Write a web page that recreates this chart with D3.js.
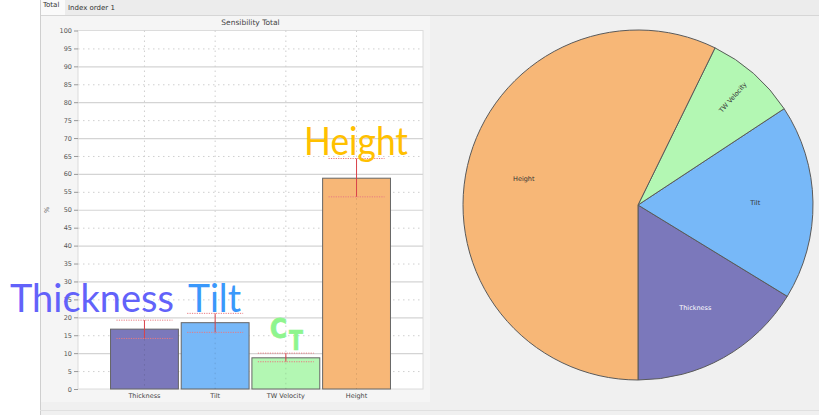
<!DOCTYPE html>
<html><head><meta charset="utf-8">
<script src="https://cdn.jsdelivr.net/npm/d3@7"></script>
<style>body{margin:0;background:#fff;}svg{display:block;font-family:"DejaVu Sans",sans-serif;}</style>
</head><body>
<svg id="c" width="819" height="415"></svg>
<script>
const categories = ["Thickness", "Tilt", "TW Velocity", "Height"];
const values = [16.7, 18.5, 8.7, 58.8];
const errLow = [14.1, 15.8, 7.6, 53.6];
const errHigh = [19.2, 21.1, 10.0, 64.3];
const colors = ["#7b78bb", "#77b8f8", "#b3f7b3", "#f7b777"];
const yTicks = d3.range(0, 101, 5);
const chartTitle = "Sensibility Total";
const tabs = ["Total", "Index order 1"];

const svg = d3.select("#c");
// backgrounds
svg.append("rect").attr("x",0).attr("y",0).attr("width",819).attr("height",415).attr("fill","#f0f0f0");
svg.append("rect").attr("x",0).attr("y",0).attr("width",40).attr("height",415).attr("fill","#fff");
svg.append("rect").attr("x",40).attr("y",0).attr("width",779).attr("height",15).attr("fill","#ececec");
svg.append("line").attr("x1",40).attr("x2",819).attr("y1",15.5).attr("y2",15.5).attr("stroke","#d6d6d6");
svg.append("line").attr("x1",40.5).attr("x2",40.5).attr("y1",0).attr("y2",415).attr("stroke","#cfcfcf");
svg.append("line").attr("x1",40).attr("x2",819).attr("y1",410.5).attr("y2",410.5).attr("stroke","#e0e0e0");
// tabs
svg.append("rect").attr("x",41).attr("y",0).attr("width",24).attr("height",15).attr("fill","#fafafa");
svg.append("text").attr("x",43).attr("y",7).attr("font-size",7).attr("fill","#333").text(tabs[0]);
svg.append("text").attr("x",68).attr("y",10).attr("font-size",7).attr("fill","#333").text(tabs[1]);
// left panel background
svg.append("rect").attr("x",41).attr("y",16).attr("width",389).attr("height",386).attr("fill","#f5f5f5");

const m = {l:78, r:423, t:30.5, b:389};
const x = d3.scaleBand().domain(categories).range([m.l, m.r]).paddingInner(0.04).paddingOuter(0.46);
const y = d3.scaleLinear().domain([0,100]).range([m.b, m.t]);

svg.append("rect").attr("x",m.l).attr("y",m.t).attr("width",m.r-m.l).attr("height",m.b-m.t)
  .attr("fill","#fff").attr("stroke","#dcdcdc");

svg.append("text").attr("x",(m.l+m.r)/2).attr("y",25).attr("text-anchor","middle")
  .attr("font-size",7.5).attr("fill","#444").text(chartTitle);

// horizontal grid
svg.append("g").selectAll("line").data(yTicks.filter(d=>d>0&&d<100)).join("line")
  .attr("x1",m.l).attr("x2",m.r).attr("y1",d=>y(d)+0.5).attr("y2",d=>y(d)+0.5)
  .attr("stroke", d=> d%10===0 ? "#d4d4d4" : "#cfcfcf")
  .attr("stroke-width", d=> d%10===0 ? 1.2 : 1)
  .attr("stroke-dasharray", d=> d%10===0 ? null : "1.5,3.5");
// vertical grid
svg.append("g").selectAll("line").data(categories).join("line")
  .attr("x1",d=>x(d)+x.bandwidth()/2).attr("x2",d=>x(d)+x.bandwidth()/2)
  .attr("y1",m.t).attr("y2",m.b).attr("stroke","#cfcfcf").attr("stroke-dasharray","1.5,3.5");

// y axis
const yAxis = d3.axisLeft(y).tickValues(yTicks).tickSize(4).tickPadding(2);
const ya = svg.append("g").attr("transform",`translate(${m.l},0)`).call(yAxis);
ya.select(".domain").remove();
ya.selectAll("line").attr("stroke","#999");
ya.selectAll("text").attr("font-size",6.5).attr("fill","#555").attr("font-family","DejaVu Sans");
svg.append("text").attr("transform","translate(49,210) rotate(-90)").attr("text-anchor","middle")
  .attr("font-size",6.5).attr("fill","#555").text("%");

// bars
svg.append("g").selectAll("rect").data(categories).join("rect")
  .attr("x",d=>x(d)).attr("width",x.bandwidth())
  .attr("y",(d,i)=>y(values[i])).attr("height",(d,i)=>y(0)-y(values[i]))
  .attr("fill",(d,i)=>colors[i]).attr("stroke","#666").attr("stroke-width",1);
// grid through bars
svg.append("g").selectAll("line").data(categories).join("line")
  .attr("x1",d=>x(d)+x.bandwidth()/2).attr("x2",d=>x(d)+x.bandwidth()/2)
  .attr("y1",(d,i)=>y(values[i])).attr("y2",m.b).attr("stroke","#000").attr("stroke-opacity",0.12).attr("stroke-dasharray","1.5,3.5");

// error bars
const eg = svg.append("g");
categories.forEach((c,i)=>{
  const cx = x(c)+x.bandwidth()/2, hw = 28;
  eg.append("line").attr("x1",cx).attr("x2",cx).attr("y1",y(errHigh[i])).attr("y2",y(errLow[i]))
    .attr("stroke","#d9434a").attr("stroke-width",1);
  [errHigh[i], errLow[i]].forEach(v=>{
    eg.append("line").attr("x1",cx-hw).attr("x2",cx+hw).attr("y1",y(v)).attr("y2",y(v))
      .attr("stroke","#e87a80").attr("stroke-width",1).attr("stroke-dasharray","1.2,1.2");
  });
});

// x labels
svg.append("g").selectAll("text").data(categories).join("text")
  .attr("x",d=>x(d)+x.bandwidth()/2).attr("y",398).attr("text-anchor","middle")
  .attr("font-size",6.5).attr("fill","#444").text(d=>d);

// big annotations
const ann = svg.append("g").attr("font-family","Lato, 'Open Sans', sans-serif");
ann.append("text").attr("x",10).attr("y",311.5).attr("font-size",39).attr("fill","#6262fa")
  .attr("textLength",164).attr("lengthAdjust","spacingAndGlyphs").text("Thickness");
ann.append("text").attr("x",188).attr("y",311.5).attr("font-size",39).attr("fill","#3a98fb")
  .attr("textLength",53).attr("lengthAdjust","spacingAndGlyphs").text("Tilt");
ann.append("text").attr("x",304).attr("y",155).attr("font-size",39).attr("fill","#ffc000")
  .attr("textLength",104).attr("lengthAdjust","spacingAndGlyphs").text("Height");
ann.append("text").attr("x",270).attr("y",337.5).attr("fill","#8ef58e")
  .attr("font-family","'DejaVu Sans', sans-serif").attr("font-weight","bold")
  .attr("font-size",26).attr("stroke","#8ef58e").attr("stroke-width",0.8)
  .attr("textLength",17).attr("lengthAdjust","spacingAndGlyphs").text("C");
ann.append("text").attr("x",289).attr("y",350).attr("fill","#8ef58e")
  .attr("font-family","'DejaVu Sans', sans-serif").attr("font-weight","bold")
  .attr("font-size",26).attr("stroke","#8ef58e").attr("stroke-width",0.5)
  .attr("textLength",14).attr("lengthAdjust","spacingAndGlyphs").text("T");

// pie
const cx = 638, cy = 205, R = 175;
const pie = d3.pie().sort(null).startAngle(Math.PI).endAngle(-Math.PI);
const arcs = pie(values);
const arc = d3.arc().innerRadius(0).outerRadius(R);
const pg = svg.append("g").attr("transform",`translate(${cx},${cy})`);
pg.selectAll("path").data(arcs).join("path").attr("d",arc)
  .attr("fill",(d,i)=>colors[i]).attr("stroke","#5a5a5a").attr("stroke-width",1);
arcs.forEach((a,i)=>{
  const mid = (a.startAngle+a.endAngle)/2;
  const rr = categories[i]==="TW Velocity" ? 0.82*R : 0.67*R;
  const px = rr*Math.sin(mid), py = -rr*Math.cos(mid);
  const t = pg.append("text").attr("text-anchor","middle").attr("dy","0.35em")
    .attr("font-size",6.5).attr("fill", i===0 ? "#fff" : "#333").text(categories[i]);
  if (categories[i]==="TW Velocity") {
    const deg = mid*180/Math.PI - 90;
    t.attr("transform",`translate(${px},${py}) rotate(${deg})`);
  } else {
    t.attr("x",px).attr("y",py);
  }
});
</script>
</body></html>
